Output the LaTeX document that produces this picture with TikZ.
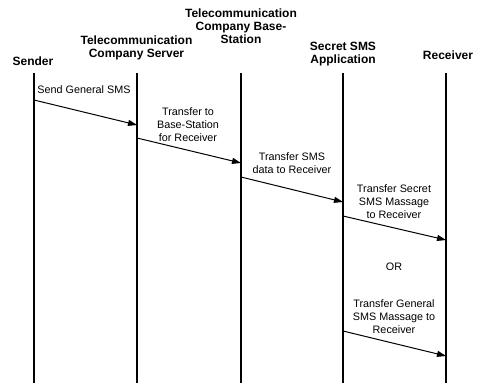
\documentclass[tikz,border=0pt]{standalone}
\usepackage{fontspec}
\setmainfont{Liberation Sans}
\usetikzlibrary{arrows.meta}
\begin{document}
\begin{tikzpicture}[x=1pt,y=-1pt,
  head/.style={font=\fontsize{12}{13}\selectfont\bfseries,align=center,inner sep=0pt,anchor=center},
  lbl/.style={font=\fontsize{10.8}{13}\selectfont,align=center,inner sep=0pt,anchor=center},
  life/.style={line width=1.6pt},
  msg/.style={line width=1pt,-{Triangle[length=9pt,width=6pt]}}]
\useasboundingbox (0,0) rectangle (479,383);
% headers
\node[head] (hS) at (33,61) {Sender};
\node[head] (hT) at (136.5,47.5) {Telecommunication\\Company Server};
\node[head] (hB) at (241,26) {Telecommunication\\Company Base-\\Station};
\node[head] (hA) at (343,54.5) {Secret SMS\\Application};
\node[head] (hR) at (448,55) {Receiver};
% lifelines
\coordinate (s0) at (34,73);  \coordinate (s1) at (34,383);
\coordinate (t0) at (137,73); \coordinate (t1) at (137,383);
\coordinate (b0) at (241,73); \coordinate (b1) at (241,383);
\coordinate (a0) at (343,73); \coordinate (a1) at (343,383);
\coordinate (r0) at (446,73); \coordinate (r1) at (446,383);
\foreach \p in {s,t,b,a,r} \draw[life] (\p0) -- (\p1);
% message endpoints
\coordinate (m1a) at (34,100);  \coordinate (m1b) at (137,125);
\coordinate (m2a) at (137,138); \coordinate (m2b) at (241,163);
\coordinate (m3a) at (241,177); \coordinate (m3b) at (343,202);
\coordinate (m4a) at (343,216); \coordinate (m4b) at (446,240);
\coordinate (m5a) at (343,331); \coordinate (m5b) at (446,356);
\draw[msg] (m1a) -- (m1b);
\draw[msg] (m2a) -- (m2b);
\draw[msg] (m3a) -- (m3b);
\draw[msg] (m4a) -- (m4b);
\draw[msg] (m5a) -- (m5b);
% labels
\node[lbl] (l1) at (84,90) {Send General SMS};
\node[lbl] (l2) at (188,125) {Transfer to\\Base-Station\\for Receiver};
\node[lbl] (l3) at (292,163.5) {Transfer SMS\\data to Receiver};
\node[lbl] (l4) at (394,202) {Transfer Secret\\SMS Massage\\to Receiver};
\node[lbl] (or) at (394,267) {OR};
\node[lbl] (l5) at (394,317) {Transfer General\\SMS Massage to\\Receiver};
\end{tikzpicture}
\end{document}
